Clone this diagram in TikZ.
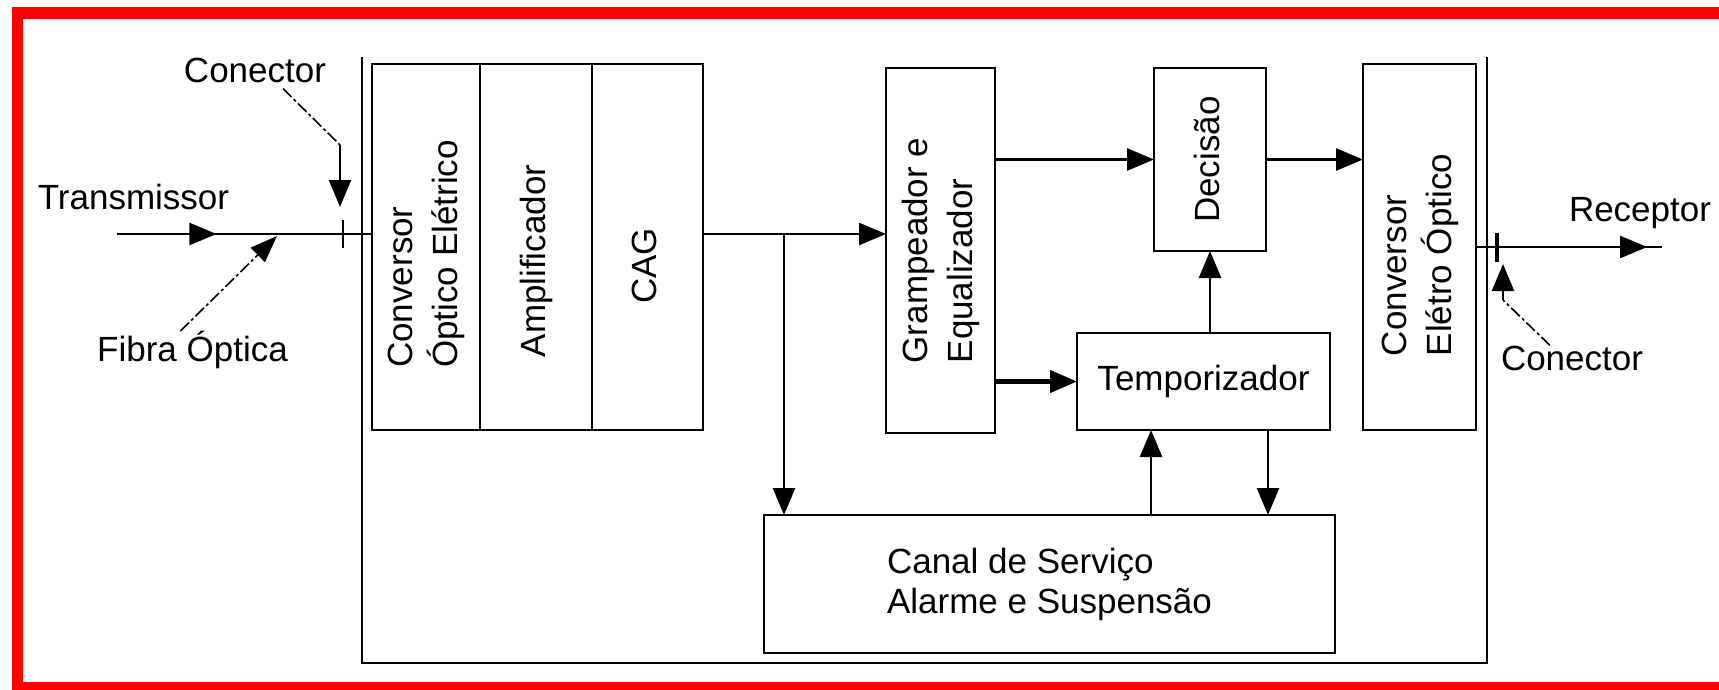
\documentclass[tikz,border=0pt]{standalone}
\usepackage{fontspec}
\setmainfont{Liberation Sans}
\usepackage{tikz}
\usetikzlibrary{
  arrows.meta,
  positioning,
  decorations.markings,
  calc
}
\definecolor{framered}{RGB}{255,0,0}
\newcommand{\vlabel}[2][0pt]{\rotatebox{90}{\begin{tabular}{@{}l@{}}#2\end{tabular}\hspace*{#1}}}

\begin{document}
\begin{tikzpicture}[
  x=1pt, y=-1pt,
  every node/.style={font=\fontsize{35}{45}\selectfont, inner sep=0pt},
  box/.style={
    rectangle, draw, line width=2.6pt, outer sep=0pt,
    minimum width=110pt, minimum height=366pt
  },
  arr/.style={-{Triangle[length=27pt,width=22pt]}, line width=2.6pt},
  wire/.style={line width=2.6pt},
  leader/.style={line width=1.6pt, dash pattern=on 12pt off 3pt on 3pt off 3pt},
  midarr/.style={postaction={decorate},
    decoration={markings, mark=at position #1 with {\arrow{Triangle[length=27pt,width=22pt]}}}},
  lbl/.style={font=\fontsize{35}{40}\selectfont}
]
  \useasboundingbox (0,0) rectangle (1719,689);

  % Frame
  \draw[framered, line width=11.5pt] (1740,13) -- (17.5,13) -- (17.5,687.5) -- (1740,687.5);

  % Receiver housing
  \draw[wire] (362,57) -- (362,663) -- (1487,663) -- (1487,57);

  % Front end
  \node[box, minimum width=108pt] (conv) at (426,247) {\vlabel[14pt]{Conversor\\Óptico Elétrico}};
  \node[box, minimum width=112pt, right=0pt of conv] (amp) {\vlabel[28pt]{Amplificador}};
  \node[box, minimum width=111pt, right=0pt of amp] (cag) {\vlabel[38pt]{CAG}};

  % Regenerator
  \node[box, minimum width=109pt, minimum height=365pt] (gramp) at (940.5,250.5) {\vlabel{Grampeador e\\Equalizador}};
  \node[box, minimum width=112pt, minimum height=183pt] (dec) at (1210,159.5) {\vlabel{Decisão}};
  \node[box, minimum width=253pt, minimum height=97pt] (temp) at (1203.5,381.5) {Temporizador};
  \node[box, minimum width=113pt] (conveo) at (1419.5,247) {\vlabel[16pt]{Conversor\\Elétro Óptico}};
  \node[box, minimum width=571pt, minimum height=138pt, align=left, lbl] (canal) at (1049.5,584)
      {Canal de Serviço\\Alarme e Suspensão};

  % Fibre in
  \coordinate (txin) at (117,234);
  \draw[wire, midarr=0.39] (txin) -- (txin -| conv.west);
  \draw[wire] (343,220) -- (343,248);
  \node[lbl] (trans) at (133.5,197) {Transmissor};
  \node[lbl] (fibra) at (192.5,350) {Fibra Óptica};
  \draw[leader, -{Triangle[length=27pt,width=20pt]}] ([xshift=-12pt]fibra.north) -- (277,236);
  \node[lbl] (conl) at (255,70) {Conector};
  \coordinate (conlbend) at (340,145);
  \draw[leader] ([xshift=28pt,yshift=-6pt]conl.south) -- (conlbend);
  \draw[arr, line width=2pt] (conlbend) -- (340,207);

  % Fibre out
  \coordinate (rxout) at (1662,247);
  \draw[wire, midarr=0.92] (conveo.east) -- (rxout);
  \draw[line width=4.5pt] (1497,233) -- (1497,262);
  \node[lbl] (recep) at (1640,213) {Receptor};
  \node[lbl] (conr) at (1572,358) {Conector};
  \coordinate (conrbend) at (1503,300);
  \draw[leader] ([xshift=-22pt]conr.north) -- (conrbend);
  \draw[arr, line width=2pt] (conrbend) -- (1503,264);

  % Arrows
  \draw[arr] (cag.east |- txin) -- (gramp.west |- txin);
  \coordinate (branch) at (784,234);
  \draw[arr] (branch) -- (branch |- canal.north);
  \draw[arr] (gramp.east |- dec.west) -- (dec.west);
  \draw[arr, line width=4.5pt] (gramp.east |- temp.west) -- (temp.west);
  \draw[arr] (dec.east) -- (dec.east -| conveo.west);
  \draw[arr] (temp.north -| dec.south) -- (dec.south);
  \coordinate (tin) at ([xshift=-52.5pt]temp.south);
  \draw[arr] (tin |- canal.north) -- (tin);
  \coordinate (tout) at ([xshift=64.5pt]temp.south);
  \draw[arr] (tout) -- (tout |- canal.north);
\end{tikzpicture}
\end{document}
